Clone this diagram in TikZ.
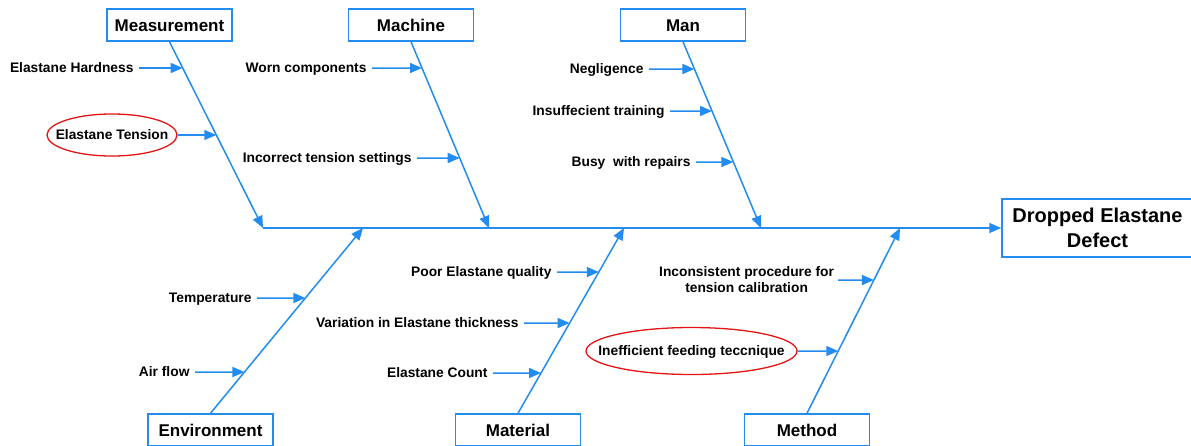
\documentclass[tikz,border=0pt]{standalone}
\usepackage{fontspec}
\setmainfont{Liberation Sans}
\usetikzlibrary{arrows.meta,shapes.geometric}
\definecolor{bonecol}{RGB}{35,140,240}
\definecolor{markred}{RGB}{228,20,20}
\begin{document}
\begin{tikzpicture}[x=1pt,y=-1pt,
  bone/.style={draw=bonecol, line width=1.5pt, -{Triangle[length=12pt,width=10pt]}},
  catbox/.style={draw=bonecol, line width=1.5pt, fill=white, minimum width=125pt,
    minimum height=32pt, inner sep=0pt, text height=12.2pt, text depth=0pt,
    font=\fontsize{17}{20}\selectfont\bfseries},
  cause/.style={inner sep=0pt, outer sep=5.5pt, anchor=east, text height=9.8pt,
    text depth=0pt, font=\fontsize{13.8}{16}\selectfont\bfseries},
  ring/.style={ellipse, draw=markred, line width=1.3pt, inner sep=0pt},
  ringtext/.style={inner sep=0pt, text height=9.8pt, text depth=0pt,
    font=\fontsize{13.8}{16}\selectfont\bfseries}
]
\clip (0,0) rectangle (1191,445);
\useasboundingbox (0,0) rectangle (1191,445);

% effect box and spine
\node[draw=bonecol, line width=1.5pt, minimum width=191pt, minimum height=58pt,
  inner sep=0pt, align=center, font=\fontsize{20}{25}\selectfont\bfseries]
  (effect) at (1097.5,228) {Dropped Elastane\\Defect};
\coordinate (spine) at (263,228);
\draw[bone] (spine) -- (effect.west);

% category boxes
\node[catbox] (meas) at (169.5,25) {Measurement};
\node[catbox] (mach) at (411,25) {Machine};
\node[catbox] (man)  at (683,25) {Man};
\node[catbox] (env)  at (210.5,430) {Environment};
\node[catbox] (mat)  at (518,430) {Material};
\node[catbox] (meth) at (807,430) {Method};

% bone ends on the spine
\coordinate (meas-e) at (263,228);
\coordinate (mach-e) at (489,228);
\coordinate (man-e)  at (761,228);
\coordinate (env-e)  at (363,228);
\coordinate (mat-e)  at (624,228);
\coordinate (meth-e) at (900,228);

\draw[bone] (meas.south) -- (meas-e);
\draw[bone] (mach.south) -- (mach-e);
\draw[bone] (man.south) -- (man-e);
\draw[bone] (env.north) -- (env-e);
\draw[bone] (mat.north) -- (mat-e);
\draw[bone] (meth.north) -- (meth-e);

% Measurement causes
\node[cause] (hard) at (139,68) {Elastane Hardness};
\coordinate (hard-t) at (intersection of meas.south--meas-e and 0,68--10,68);
\draw[bone] (hard) -- (hard-t);
\node[ring, minimum width=130pt, minimum height=42pt] (tens) at (112,135) {};
\node[ringtext] (tens-l) at (tens) {Elastane Tension};
\coordinate (tens-t) at (intersection of meas.south--meas-e and 0,135--10,135);
\draw[bone] (tens) -- (tens-t);

% Machine causes
\node[cause] (worn) at (372,68) {Worn components};
\coordinate (worn-t) at (intersection of mach.south--mach-e and 0,68--10,68);
\draw[bone] (worn) -- (worn-t);
\node[cause] (sett) at (417,158) {Incorrect tension settings};
\coordinate (sett-t) at (intersection of mach.south--mach-e and 0,158--10,158);
\draw[bone] (sett) -- (sett-t);

% Man causes
\node[cause] (negl) at (649,69) {Negligence};
\coordinate (negl-t) at (intersection of man.south--man-e and 0,69--10,69);
\draw[bone] (negl) -- (negl-t);
\node[cause] (train) at (670,111) {Insuffecient training};
\coordinate (train-t) at (intersection of man.south--man-e and 0,111--10,111);
\draw[bone] (train) -- (train-t);
\node[cause] (busy) at (696,162) {Busy\ \ with repairs};
\coordinate (busy-t) at (intersection of man.south--man-e and 0,162--10,162);
\draw[bone] (busy) -- (busy-t);

% Environment causes
\node[cause] (temp) at (257,298) {Temperature};
\coordinate (temp-t) at (intersection of env.north--env-e and 0,298--10,298);
\draw[bone] (temp) -- (temp-t);
\node[cause] (air) at (195,372) {Air flow};
\coordinate (air-t) at (intersection of env.north--env-e and 0,372--10,372);
\draw[bone] (air) -- (air-t);

% Material causes
\node[cause] (qual) at (557,272) {Poor Elastane quality};
\coordinate (qual-t) at (intersection of mat.north--mat-e and 0,272--10,272);
\draw[bone] (qual) -- (qual-t);
\node[cause] (thick) at (524,323) {Variation in Elastane thickness};
\coordinate (thick-t) at (intersection of mat.north--mat-e and 0,323--10,323);
\draw[bone] (thick) -- (thick-t);
\node[cause] (count) at (493,373) {Elastane Count};
\coordinate (count-t) at (intersection of mat.north--mat-e and 0,373--10,373);
\draw[bone] (count) -- (count-t);

% Method causes
\node[inner sep=0pt, outer sep=4pt, anchor=east, align=center,
  font=\fontsize{13.8}{16}\selectfont\bfseries]
  (proc) at (838,280) {Inconsistent procedure for\\tension calibration};
\coordinate (proc-t) at (intersection of meth.north--meth-e and 0,280--10,280);
\draw[bone] (proc) -- (proc-t);
\node[ring, minimum width=211pt, minimum height=47pt] (feed) at (691.5,351) {};
\node[ringtext] (feed-l) at (feed) {Inefficient feeding teccnique};
\coordinate (feed-t) at (intersection of meth.north--meth-e and 0,351--10,351);
\draw[bone] (feed) -- (feed-t);
\end{tikzpicture}
\end{document}
